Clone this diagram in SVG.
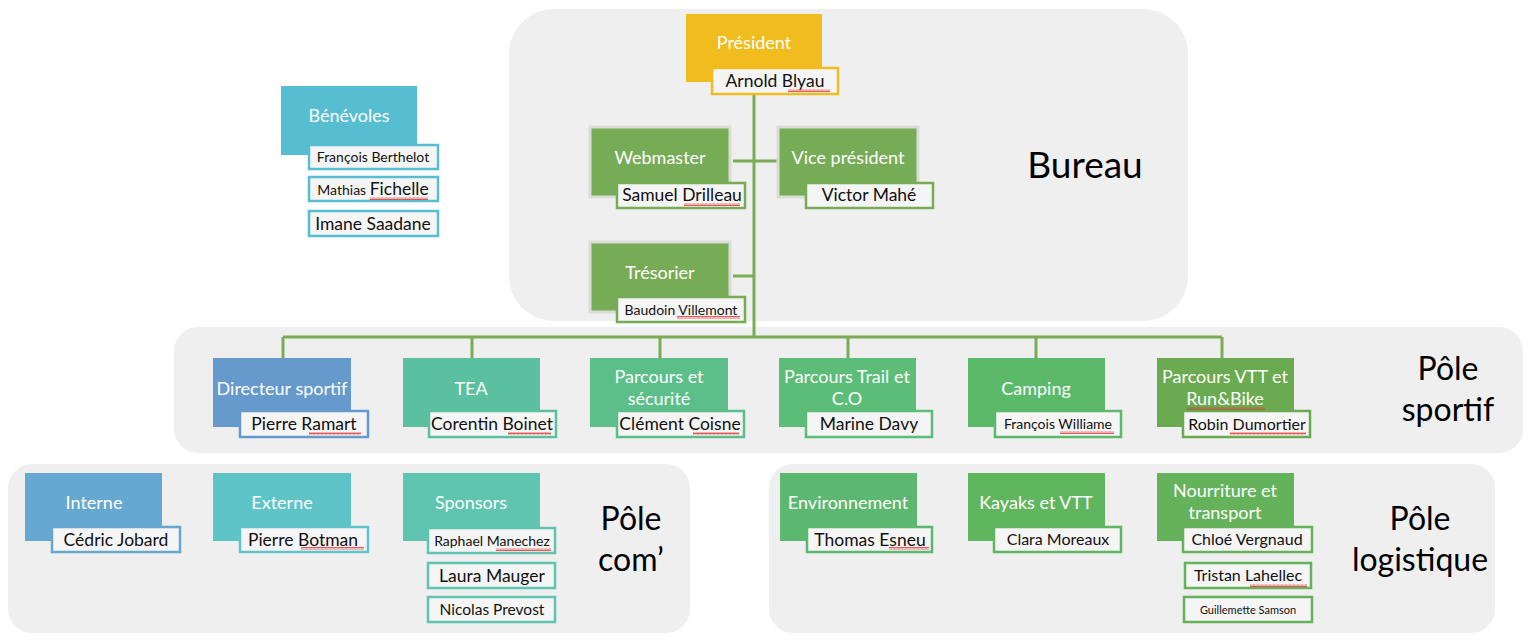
<svg xmlns="http://www.w3.org/2000/svg" width="1539" height="644" viewBox="0 0 1539 644">
<defs>
<pattern id="sq" width="4" height="3" patternUnits="userSpaceOnUse"><path d="M0 2.5 L1 0.5 L2 2.5 L3 0.5 L4 2.5" fill="none" stroke="#e03030" stroke-width="0.8"/></pattern>
</defs>
<style>
text{font-family:Lato,"Open Sans","Liberation Sans",sans-serif}
.bg{fill:#f0eff0}
.t{fill:#fff;font-size:18px;text-anchor:middle}
.n{fill:#111;font-size:17.5px;text-anchor:middle}
.s{font-size:14px}
.xs{font-size:11px}
.nb{fill:#f5f5f5;stroke-width:2.5}
.big{fill:#000;font-size:37px;text-anchor:middle}
.pole{fill:#000;font-size:32px;text-anchor:middle}
.ln{stroke:#7aab55;stroke-width:3;fill:none}
.sq{fill:url(#sq)}
.halo{stroke:#d9ddd5;stroke-width:3}
</style>
<rect class="bg" x="509" y="9" width="679" height="312" rx="45"/>
<rect class="bg" x="174" y="327" width="1349" height="126" rx="24"/>
<rect class="bg" x="8" y="464" width="682" height="169" rx="24"/>
<rect class="bg" x="769" y="464" width="726" height="169" rx="24"/>
<text class="big" x="1085" y="178">Bureau</text>
<text class="pole" x="1448" y="380">Pôle</text>
<text class="pole" x="1448" y="421">sportif</text>
<text class="pole" x="631" y="530">Pôle</text>
<text class="pole" x="631" y="571">com’</text>
<text class="pole" x="1420" y="530">Pôle</text>
<text class="pole" x="1420" y="571">logistique</text>
<g id="connectors">
<path class="ln" d="M754 94V337M733 161H778M733 276H754M283 337H1222M283 337V358M472 337V358M660 337V358M848 337V358M1036 337V358M1222 337V358"/>
</g>
<g id="president">
<rect x="686" y="14" width="136" height="68" fill="#f0bc1e"/>
<text class="t" x="754" y="49">Président</text>
<rect class="nb" x="712" y="68" width="126" height="26" stroke="#f0bc1e"/>
<text class="n" x="775" y="87">Arnold Blyau</text>
<rect class="sq" x="788" y="89" width="42" height="3"/>
</g>
<g id="webmaster">
<rect class="halo" x="590" y="127" width="140" height="70" fill="#77ac57"/>
<text class="t" x="660" y="164">Webmaster</text>
<rect class="nb" x="617" y="183" width="128" height="25" stroke="#77ac57"/>
<text class="n" x="682" y="201">Samuel Drilleau</text>
<rect class="sq" x="684" y="203" width="56" height="3"/>
</g>
<g id="vicepresident">
<rect class="halo" x="778" y="127" width="140" height="70" fill="#77ac57"/>
<text class="t" x="848" y="164">Vice président</text>
<rect class="nb" x="806" y="183" width="127" height="25" stroke="#77ac57"/>
<text class="n" x="869" y="201">Victor Mahé</text>
</g>
<g id="tresorier">
<rect class="halo" x="590" y="242" width="140" height="70" fill="#77ac57"/>
<text class="t" x="660" y="279">Trésorier</text>
<rect class="nb" x="617" y="297" width="128" height="25" stroke="#77ac57"/>
<text class="n s" x="681" y="315">Baudoin Villemont</text>
<rect class="sq" x="677" y="316" width="63" height="3"/>
</g>
<g id="benevoles">
<rect x="281" y="86" width="136" height="69" fill="#57bdd0"/>
<text class="t" x="349" y="122">Bénévoles</text>
<rect class="nb" x="309" y="145" width="129" height="24" stroke="#57bdd0"/>
<text class="n s" x="373" y="162">François Berthelot</text>
<rect class="nb" x="309" y="177" width="129" height="24" stroke="#57bdd0"/>
<text class="n" x="373" y="195"><tspan class="s">Mathias </tspan>Fichelle</text>
<rect class="sq" x="370" y="197" width="58" height="3"/>
<rect class="nb" x="309" y="211" width="129" height="25" stroke="#57bdd0"/>
<text class="n" x="373" y="230">Imane Saadane</text>
</g>
<g id="directeur">
<rect x="213" y="358" width="138" height="69" fill="#6699cc"/>
<text class="t" x="282" y="395">Directeur sportif</text>
<rect class="nb" x="240" y="411" width="128" height="26" stroke="#6699cc"/>
<text class="n" x="304" y="430">Pierre Ramart</text>
<rect class="sq" x="309" y="432" width="52" height="3"/>
</g>
<g id="tea">
<rect x="403" y="358" width="137" height="69" fill="#5bc0a0"/>
<text class="t" x="471" y="395">TEA</text>
<rect class="nb" x="429" y="411" width="127" height="26" stroke="#5bc0a0"/>
<text class="n" x="492" y="430">Corentin Boinet</text>
<rect class="sq" x="508" y="432" width="43" height="3"/>
</g>
<g id="parcours-securite">
<rect x="590" y="358" width="138" height="69" fill="#5cbf8a"/>
<text class="t" x="659" y="383">Parcours et</text>
<text class="t" x="659" y="405">sécurité</text>
<rect class="nb" x="617" y="411" width="127" height="26" stroke="#5cbf8a"/>
<text class="n" x="680" y="430">Clément Coisne</text>
<rect class="sq" x="693" y="432" width="46" height="3"/>
</g>
<g id="parcours-trail">
<rect x="779" y="358" width="137" height="69" fill="#5bbd77"/>
<text class="t" x="847" y="383">Parcours Trail et</text>
<text class="t" x="847" y="405">C.O</text>
<rect class="nb" x="806" y="411" width="126" height="26" stroke="#5bbd77"/>
<text class="n" x="869" y="430">Marine Davy</text>
</g>
<g id="camping">
<rect x="968" y="358" width="137" height="69" fill="#5bb96a"/>
<text class="t" x="1036" y="395">Camping</text>
<rect class="nb" x="995" y="411" width="126" height="26" stroke="#5bb96a"/>
<text class="n s" x="1058" y="429">François Williame</text>
<rect class="sq" x="1060" y="431" width="54" height="3"/>
</g>
<g id="parcours-vtt">
<rect x="1157" y="358" width="137" height="69" fill="#6aaa50"/>
<text class="t" x="1225" y="383">Parcours VTT et</text>
<text class="t" x="1225" y="405">Run&amp;Bike</text>
<rect class="sq" x="1187" y="407" width="78" height="3"/>
<rect class="nb" x="1183" y="411" width="127" height="26" stroke="#6aaa50"/>
<text class="n" x="1247" y="430" style="font-size:16px">Robin Dumortier</text>
<rect class="sq" x="1230" y="432" width="76" height="3"/>
</g>
<g id="interne">
<rect x="25" y="473" width="137" height="68" fill="#66a8cf"/>
<text class="t" x="94" y="509">Interne</text>
<rect class="nb" x="52" y="527" width="128" height="25" stroke="#66a8cf"/>
<text class="n" x="116" y="546">Cédric Jobard</text>
</g>
<g id="externe">
<rect x="213" y="473" width="138" height="68" fill="#5fc4c8"/>
<text class="t" x="282" y="509">Externe</text>
<rect class="nb" x="240" y="527" width="128" height="25" stroke="#5fc4c8"/>
<text class="n" x="303" y="546">Pierre Botman</text>
<rect class="sq" x="301" y="547" width="63" height="3"/>
</g>
<g id="sponsors">
<rect x="403" y="473" width="137" height="68" fill="#5fc4b0"/>
<text class="t" x="471" y="509">Sponsors</text>
<rect class="nb" x="428" y="528" width="127" height="25" stroke="#5fc4b0"/>
<text class="n s" x="492" y="546">Raphael Manechez</text>
<rect class="sq" x="496" y="548" width="55" height="3"/>
<rect class="nb" x="428" y="563" width="127" height="25" stroke="#5fc4b0"/>
<text class="n" x="492" y="582">Laura Mauger</text>
<rect class="nb" x="428" y="597" width="127" height="25" stroke="#5fc4b0"/>
<text class="n" x="492" y="615" style="font-size:15.5px">Nicolas Prevost</text>
</g>
<g id="environnement">
<rect x="780" y="473" width="137" height="68" fill="#5cb870"/>
<text class="t" x="848" y="509">Environnement</text>
<rect class="nb" x="807" y="527" width="125" height="25" stroke="#5cb870"/>
<text class="n" x="870" y="546">Thomas Esneu</text>
<rect class="sq" x="889" y="547" width="40" height="3"/>
</g>
<g id="kayaks">
<rect x="968" y="473" width="137" height="68" fill="#5fb65f"/>
<text class="t" x="1036" y="509">Kayaks et VTT</text>
<rect class="nb" x="994" y="527" width="127" height="25" stroke="#5fb65f"/>
<text class="n" x="1058" y="545" style="font-size:16px">Clara Moreaux</text>
</g>
<g id="nourriture">
<rect x="1157" y="473" width="137" height="68" fill="#64b35a"/>
<text class="t" x="1225" y="497">Nourriture et</text>
<text class="t" x="1225" y="519">transport</text>
<rect class="nb" x="1183" y="527" width="129" height="25" stroke="#64b35a"/>
<text class="n" x="1247" y="545" style="font-size:16px">Chloé Vergnaud</text>
<rect class="nb" x="1185" y="563" width="126" height="25" stroke="#64b35a"/>
<text class="n" x="1248" y="581" style="font-size:16px">Tristan Lahellec</text>
<rect class="sq" x="1250" y="584" width="57" height="3"/>
<rect class="nb" x="1184" y="597" width="128" height="25" stroke="#64b35a"/>
<text class="n xs" x="1248" y="614">Guillemette Samson</text>
</g>
</svg>
